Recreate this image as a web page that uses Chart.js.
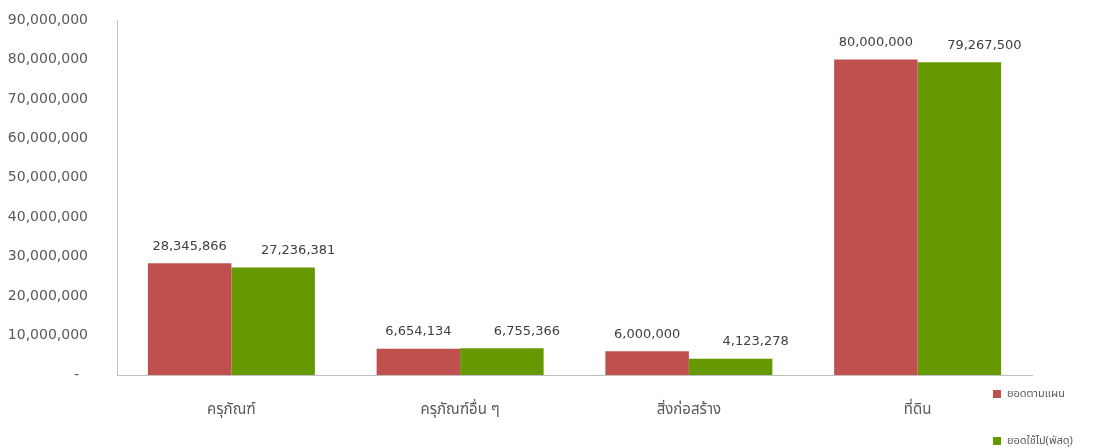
<!DOCTYPE html>
<html>
<head>
<meta charset="utf-8">
<script src="https://cdn.jsdelivr.net/npm/chart.js@4.4.1/dist/chart.umd.min.js"></script>
<style>
  html, body { margin: 0; padding: 0; background: #ffffff; }
  #wrap { position: relative; width: 1104px; height: 448px; }
  canvas { display: block; }
  .legend { position: absolute; left: 993px; font-family: "Noto Sans Thai", "Noto Sans", "DejaVu Sans", sans-serif; font-size: 11px; color: #595959; display: flex; align-items: center; }
  .legend span.sw { display: inline-block; width: 8px; height: 8px; margin-right: 6px; }
</style>
</head>
<body>
<div id="wrap">
  <canvas id="c" width="1104" height="448"></canvas>
  <div class="legend" id="lg0" style="top:385px;"><span class="sw"></span><span class="tx"></span></div>
  <div class="legend" id="lg1" style="top:432px;"><span class="sw"></span><span class="tx"></span></div>
</div>
<script>
const categories = ["ครุภัณฑ์", "ครุภัณฑ์อื่น ๆ", "สิ่งก่อสร้าง", "ที่ดิน"];
const seriesNames = ["ยอดตามแผน", "ยอดใช้ไป(พัสดุ)"];
const planned = [28345866, 6654134, 6000000, 80000000];
const spent = [27236381, 6755366, 4123278, 79267500];
const colors = ["#C0504D", "#669900"];

const fmt = v => v.toLocaleString("en-US");

[0, 1].forEach(i => {
  const el = document.getElementById("lg" + i);
  el.querySelector(".sw").style.background = colors[i];
  el.querySelector(".tx").textContent = seriesNames[i];
});

const labelPlugin = {
  id: "valueLabels",
  afterDatasetsDraw(chart) {
    const ctx = chart.ctx;
    ctx.save();
    ctx.font = "13px 'DejaVu Sans', sans-serif";
    ctx.fillStyle = "#404040";
    ctx.textAlign = "center";
    ctx.textBaseline = "middle";
    chart.data.datasets.forEach((ds, di) => {
      const meta = chart.getDatasetMeta(di);
      const dx = di === 0 ? 0 : 25;
      meta.data.forEach((bar, i) => {
        ctx.fillText(fmt(ds.data[i]), bar.x + dx, bar.y - 17);
      });
    });
    ctx.restore();
  }
};

new Chart(document.getElementById("c"), {
  type: "bar",
  data: {
    labels: categories,
    datasets: [
      { label: seriesNames[0], data: planned, backgroundColor: colors[0], borderWidth: 0 },
      { label: seriesNames[1], data: spent, backgroundColor: colors[1], borderWidth: 0 }
    ]
  },
  options: {
    responsive: false,
    animation: false,
    events: [],
    layout: { padding: { top: 20, right: 72, left: 0, bottom: 0 } },
    plugins: { legend: { display: false }, tooltip: { enabled: false } },
    datasets: { bar: { categoryPercentage: 0.73, barPercentage: 1.0 } },
    scales: {
      x: {
        grid: { display: false, drawTicks: false },
        border: { display: true, color: "#bfbfbf", width: 1 },
        ticks: { color: "#595959", font: { size: 15, family: "'Noto Sans Thai', 'Noto Sans', 'DejaVu Sans', sans-serif" }, padding: 27, maxRotation: 0 },
        afterFit(scale) { scale.height = 73; scale.paddingLeft = 0; scale.paddingRight = 0; }
      },
      y: {
        min: 0, max: 90000000,
        grid: { display: false, drawTicks: false },
        border: { display: true, color: "#bfbfbf", width: 1 },
        ticks: {
          stepSize: 10000000,
          color: "#595959",
          font: { size: 14, family: "'DejaVu Sans', sans-serif" },
          padding: 29,
          callback: v => v === 0 ? "-  " : fmt(v)
        },
        afterFit(scale) { scale.width = 117; scale.paddingTop = 0; scale.paddingBottom = 0; }
      }
    }
  },
  plugins: [labelPlugin]
});
</script>
</body>
</html>
